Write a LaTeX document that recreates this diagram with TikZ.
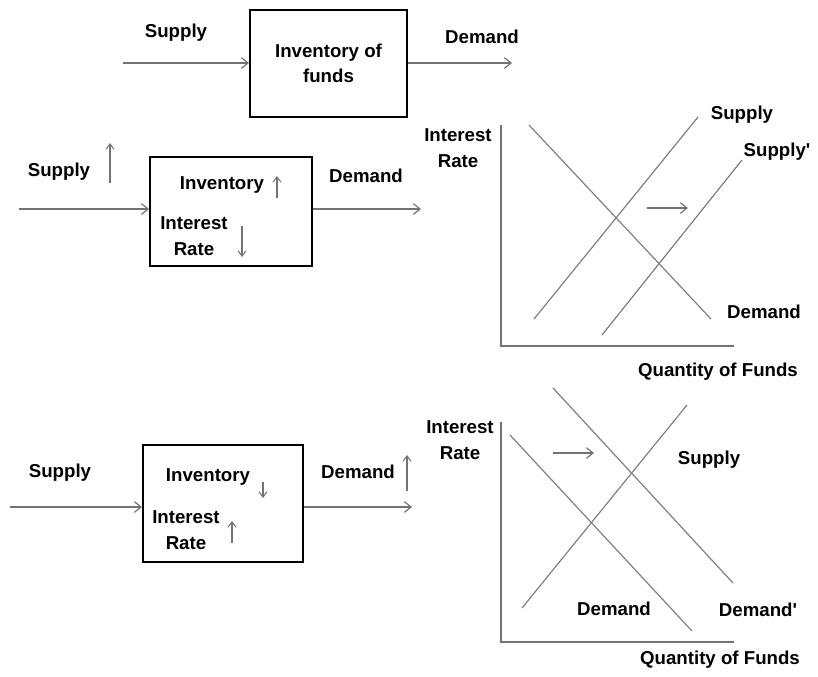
\documentclass[tikz,border=0pt]{standalone}
\usepackage{fontspec}
\newfontfamily\labelfont{Liberation Sans}
\usetikzlibrary{arrows.meta}

\begin{document}
\begin{tikzpicture}[x=0.75pt, y=-0.75pt, >={Straight Barb[length=5pt,width=8pt]},
    fund box/.style={draw, line width=1.5pt, inner sep=0pt},
    flow/.style={->, draw=black!55, line width=0.9pt},
    tick/.style={->, draw=black!55, line width=0.8pt, >={Straight Barb[length=4pt,width=6pt]}},
    curve/.style={draw=black!50, line width=0.9pt},
    axis/.style={draw=black!55, line width=1.1pt}]
        \tikzstyle{every node}=[font=\labelfont\bfseries\fontsize{14}{19}\selectfont, align=center, inner sep=0pt]
        \useasboundingbox (0,0) rectangle (818,676);

        % top: plain flow
          \node[fund box, minimum width=117.75pt, minimum height=80.25pt] (box1) at (328.5,63.5) {Inventory of\\funds};
          \coordinate (in1) at (123,63);
          \coordinate (out1) at (512,63);
          \node (s1) at (176,33) {Supply};
          \node (d1) at (482,37) {Demand};
          \draw[flow] (in1) -- (in1 -| box1.west);
          \draw[flow] (out1 -| box1.east) -- (out1);

        % middle: supply rises
          \node[fund box, minimum width=121.5pt, minimum height=81.75pt] (box2) at (231,211.5) {};
          \coordinate (in2) at (19,209);
          \coordinate (out2) at (421,209);
          \node (s2) at (59,172) {Supply};
          \node (d2) at (366,176) {Demand};
          \node (inv2) at (222,185) {Inventory};
          \node (ir2) at (194,236) {Interest\\Rate};
          \draw[flow] (in2) -- (in2 -| box2.west);
          \draw[flow] (out2 -| box2.east) -- (out2);
          \coordinate (s2a) at (110,183);
          \coordinate (s2b) at (110,143);
          \coordinate (inv2a) at (277,198);
          \coordinate (inv2b) at (277,176);
          \coordinate (ir2a) at (242,226);
          \coordinate (ir2b) at (242,257);
          \draw[tick] (s2a) -- (s2b);
          \draw[tick] (inv2a) -- (inv2b);
          \draw[tick] (ir2a) -- (ir2b);

        % bottom: demand rises
          \node[fund box, minimum width=120pt, minimum height=87.75pt] (box3) at (223,503.5) {};
          \coordinate (in3) at (10,507);
          \coordinate (out3) at (412,507);
          \node (s3) at (60,473) {Supply};
          \node (d3) at (358,472) {Demand};
          \node (inv3) at (208,477) {Inventory};
          \node (ir3) at (186,530) {Interest\\Rate};
          \draw[flow] (in3) -- (in3 -| box3.west);
          \draw[flow] (out3 -| box3.east) -- (out3);
          \coordinate (d3a) at (407,491);
          \coordinate (d3b) at (407,455);
          \coordinate (inv3a) at (263,482);
          \coordinate (inv3b) at (263,498);
          \coordinate (ir3a) at (232,543);
          \coordinate (ir3b) at (232,521);
          \draw[tick] (d3a) -- (d3b);
          \draw[tick] (inv3a) -- (inv3b);
          \draw[tick] (ir3a) -- (ir3b);

        % upper graph
          \coordinate (o1) at (501,346);
          \coordinate (y1) at (501,125);
          \coordinate (x1) at (734,346);
          \draw[axis] (y1) -- (o1) -- (x1);
          \node (yl1) at (458,148) {Interest\\Rate};
          \node (xl1) at (718,372) {Quantity of Funds};
          \coordinate (dA) at (529,125);
          \coordinate (dB) at (711,319);
          \coordinate (sA) at (534,319);
          \coordinate (sB) at (698,117);
          \coordinate (spA) at (602,335);
          \coordinate (spB) at (742,160);
          \draw[curve] (dA) -- (dB);
          \draw[curve] (sA) -- (sB);
          \draw[curve] (spA) -- (spB);
          \node (ls1) at (742,115) {Supply};
          \node (lsp1) at (777,152) {Supply'};
          \node (ld1) at (764,312) {Demand};
          \coordinate (sh1a) at (647,208);
          \coordinate (sh1b) at (688,208);
          \draw[flow] (sh1a) -- (sh1b);

        % lower graph
          \coordinate (o2) at (501,642);
          \coordinate (y2) at (501,422);
          \coordinate (x2) at (734,642);
          \draw[axis] (y2) -- (o2) -- (x2);
          \node (yl2) at (460,440) {Interest\\Rate};
          \node (xl2) at (720,660) {Quantity of Funds};
          \coordinate (eA) at (510,435);
          \coordinate (eB) at (692,631);
          \coordinate (epA) at (553,388);
          \coordinate (epB) at (733,583);
          \coordinate (tA) at (522,608);
          \coordinate (tB) at (687,405);
          \draw[curve] (eA) -- (eB);
          \draw[curve] (epA) -- (epB);
          \draw[curve] (tA) -- (tB);
          \node (ls2) at (709,460) {Supply};
          \node (ld2) at (614,609) {Demand};
          \node (ldp2) at (758,610) {Demand'};
          \coordinate (sh2a) at (553,453);
          \coordinate (sh2b) at (594,453);
          \draw[flow] (sh2a) -- (sh2b);

\end{tikzpicture}
\end{document}
